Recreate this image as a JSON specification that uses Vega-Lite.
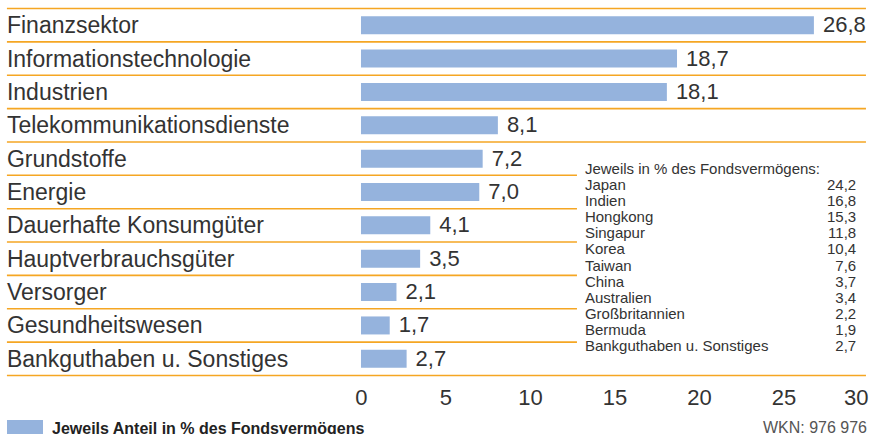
{
  "$schema": "https://vega.github.io/schema/vega-lite/v6.json",
  "width": 869,
  "height": 384,
  "autosize": {"type": "none"},
  "padding": {"top": 0, "left": 0, "right": 0, "bottom": 50},
  "background": "white",
  "title": {"text": "WKN: 976 976", "orient": "bottom", "anchor": "end", "fontSize": 16, "font": "Liberation Sans", "fontWeight": "normal", "color": "#555555", "offset": -18, "dx": -2},
  "config": {
    "view": {"stroke": null},
    "locale": {"number": {"decimal": ",", "thousands": ".", "grouping": [3], "currency": ["", " €"]}},
    "text": {"font": "Liberation Sans", "color": "#333333"}
  },
  "datasets": {
    "sektoren": [
      {"Sektor": "Finanzsektor", "Anteil": 26.8},
      {"Sektor": "Informationstechnologie", "Anteil": 18.7},
      {"Sektor": "Industrien", "Anteil": 18.1},
      {"Sektor": "Telekommunikationsdienste", "Anteil": 8.1},
      {"Sektor": "Grundstoffe", "Anteil": 7.2},
      {"Sektor": "Energie", "Anteil": 7.0},
      {"Sektor": "Dauerhafte Konsumgüter", "Anteil": 4.1},
      {"Sektor": "Hauptverbrauchsgüter", "Anteil": 3.5},
      {"Sektor": "Versorger", "Anteil": 2.1},
      {"Sektor": "Gesundheitswesen", "Anteil": 1.7},
      {"Sektor": "Bankguthaben u. Sonstiges", "Anteil": 2.7}
    ],
    "laender": [
      {"Land": "Japan", "Anteil": 24.2},
      {"Land": "Indien", "Anteil": 16.8},
      {"Land": "Hongkong", "Anteil": 15.3},
      {"Land": "Singapur", "Anteil": 11.8},
      {"Land": "Korea", "Anteil": 10.4},
      {"Land": "Taiwan", "Anteil": 7.6},
      {"Land": "China", "Anteil": 3.7},
      {"Land": "Australien", "Anteil": 3.4},
      {"Land": "Großbritannien", "Anteil": 2.2},
      {"Land": "Bermuda", "Anteil": 1.9},
      {"Land": "Bankguthaben u. Sonstiges", "Anteil": 2.7}
    ],
    "kopf": [
      {"Land": "Jeweils in % des Fondsvermögens:"}
    ]
  },
  "layer": [
    {
      "data": {"name": "sektoren"},
      "encoding": {
        "y": {"field": "Sektor", "type": "nominal", "sort": null, "axis": null,
              "scale": {"domain": ["Finanzsektor", "Informationstechnologie", "Industrien", "Telekommunikationsdienste", "Grundstoffe", "Energie", "Dauerhafte Konsumgüter", "Hauptverbrauchsgüter", "Versorger", "Gesundheitswesen", "Bankguthaben u. Sonstiges"],
                        "paddingInner": 0, "paddingOuter": 0.255}}
      },
      "layer": [
        {
          "transform": [{"filter": {"field": "Sektor", "equal": "Finanzsektor"}}],
          "mark": {"type": "rule", "color": "#F5A623", "strokeWidth": 1.6},
          "encoding": {
            "y": {"field": "Sektor", "type": "nominal", "sort": null, "bandPosition": 0},
            "x": {"datum": -20.95},
            "x2": {"datum": 29.88}
          }
        },
        {
          "transform": [{"filter": {"field": "Sektor", "oneOf": ["Finanzsektor", "Informationstechnologie", "Industrien", "Telekommunikationsdienste", "Bankguthaben u. Sonstiges"]}}],
          "mark": {"type": "rule", "color": "#F5A623", "strokeWidth": 1.6},
          "encoding": {
            "y": {"field": "Sektor", "type": "nominal", "sort": null, "bandPosition": 1},
            "x": {"datum": -20.95},
            "x2": {"datum": 29.88}
          }
        },
        {
          "transform": [{"filter": {"field": "Sektor", "oneOf": ["Grundstoffe", "Energie", "Dauerhafte Konsumgüter", "Hauptverbrauchsgüter", "Versorger", "Gesundheitswesen"]}}],
          "mark": {"type": "rule", "color": "#F5A623", "strokeWidth": 1.6},
          "encoding": {
            "y": {"field": "Sektor", "type": "nominal", "sort": null, "bandPosition": 1},
            "x": {"datum": -20.95},
            "x2": {"datum": 12.78}
          }
        },
        {
          "mark": {"type": "bar", "size": 18},
          "encoding": {
            "x": {"field": "Anteil", "type": "quantitative",
                  "scale": {"domain": [-21.36, 30.06], "nice": false, "zero": false},
                  "axis": {"values": [0, 5, 10, 15, 20, 25, 30], "domain": false, "ticks": false, "grid": false,
                           "labelFont": "Liberation Sans", "labelFontSize": 22, "labelColor": "#333333",
                           "labelPadding": 3, "labelFlush": false, "labelOverlap": false,
                           "labelAlign": {"condition": {"test": "datum.value == 30", "value": "right"}, "value": "center"},
                           "title": null}},
            "color": {"datum": "Jeweils Anteil in % des Fondsvermögens", "type": "nominal",
                      "scale": {"range": ["#95B3DD"]},
                      "legend": {"title": null, "orient": "none", "legendX": 7, "legendY": 411, "padding": 0,
                                 "symbolType": "M-1,-0.5H1V0.5H-1Z", "symbolSize": 1296, "symbolStrokeWidth": 0,
                                 "symbolOpacity": 1, "labelFont": "Liberation Sans", "labelFontSize": 16,
                                 "labelFontWeight": "bold", "labelColor": "#222222", "labelOffset": 9, "labelLimit": 400}}
          }
        },
        {
          "mark": {"type": "text", "align": "left", "baseline": "middle", "fontSize": 22, "dx": 9},
          "encoding": {
            "x": {"field": "Anteil", "type": "quantitative"},
            "text": {"field": "Anteil", "type": "quantitative", "format": ".1f"}
          }
        },
        {
          "mark": {"type": "text", "align": "left", "baseline": "middle", "fontSize": 23, "dy": 1},
          "encoding": {
            "x": {"datum": -20.95},
            "text": {"field": "Sektor", "type": "nominal"}
          }
        }
      ]
    },
    {
      "encoding": {
        "y": {"field": "Land", "type": "ordinal", "axis": null,
              "scale": {"type": "point", "domain": ["Jeweils in % des Fondsvermögens:", "Japan", "Indien", "Hongkong", "Singapur", "Korea", "Taiwan", "China", "Australien", "Großbritannien", "Bermuda", "Bankguthaben u. Sonstiges"],
                        "range": [169, 346], "padding": 0}}
      },
      "layer": [
        {
          "data": {"name": "kopf"},
          "mark": {"type": "text", "align": "left", "baseline": "middle", "fontSize": 15},
          "encoding": {
            "x": {"datum": 13.25},
            "text": {"field": "Land", "type": "nominal"}
          }
        },
        {
          "data": {"name": "laender"},
          "mark": {"type": "text", "align": "left", "baseline": "middle", "fontSize": 15},
          "encoding": {
            "x": {"datum": 13.25},
            "text": {"field": "Land", "type": "nominal"}
          }
        },
        {
          "data": {"name": "laender"},
          "mark": {"type": "text", "align": "right", "baseline": "middle", "fontSize": 15},
          "encoding": {
            "x": {"datum": 29.3},
            "text": {"field": "Anteil", "type": "quantitative", "format": ".1f"}
          }
        }
      ]
    }
  ],
  "resolve": {"scale": {"y": "independent"}}
}
